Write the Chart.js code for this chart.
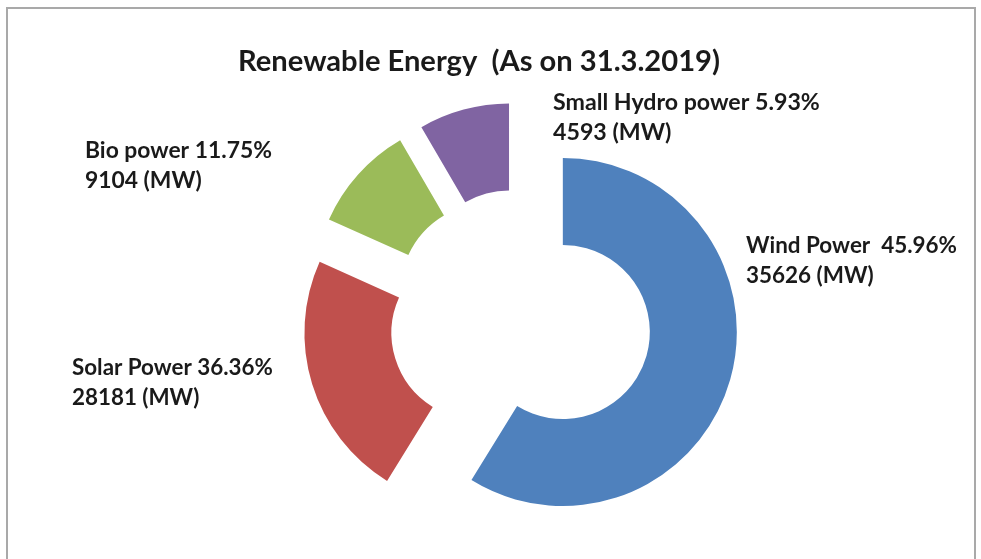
<!DOCTYPE html>
<html><head><meta charset="utf-8">
<script src="https://cdn.jsdelivr.net/npm/chart.js@4.4.1/dist/chart.umd.min.js"></script>
<style>
html,body{margin:0;padding:0;background:#fff;overflow:hidden;}
#wrap{position:relative;width:981px;height:559px;}
#frame{position:absolute;left:6px;top:7px;width:970px;height:620px;border:2px solid #a9a9a9;box-sizing:border-box;}
canvas{position:absolute;left:0;top:0;}
</style></head><body>
<div id="wrap"><div id="frame"></div><canvas id="c" width="981" height="559"></canvas></div>
<script>
// ---- data ----
const titleText = 'Renewable Energy  (As on 31.3.2019)';
const categories = ['Wind Power', 'Solar Power', 'Bio power', 'Small Hydro power'];
const sliceShares = [58.8, 22.9, 9.9, 8.4];          // slice sizes as drawn in the picture
const percentLabels = ['45.96%', '36.36%', '11.75%', '5.93%'];
const capacityMW = [35626, 28181, 9104, 4593];
const labelGap = ['  ', ' ', ' ', ' '];

// ---- layout / style (not data) ----
const sliceColors = ['#4F81BD', '#C0504D', '#9BBB59', '#8064A2'];
const labelLayout = [            // left x, first baseline, target width of first line
  {x: 746, y: 253, w: 211},
  {x: 72,  y: 375, w: 201},
  {x: 85,  y: 158, w: 187},
  {x: 553, y: 110, w: 267}
];
const lineGap = 30;
const EXPLODE = 44;
const FONT = 'Lato, "Open Sans", sans-serif';

function fitSize(ctx, text, target, weight) {
  ctx.font = weight + ' 20px ' + FONT;
  return 20 * target / ctx.measureText(text).width;
}

const explodePlugin = {
  id: 'explode',
  afterDatasetUpdate(chart, args) {
    args.meta.data.forEach(arc => {
      const mid = (arc.startAngle + arc.endAngle) / 2;
      arc.x += Math.cos(mid) * EXPLODE;
      arc.y += Math.sin(mid) * EXPLODE;
    });
  }
};

const textPlugin = {
  id: 'texts',
  afterDraw(chart) {
    const ctx = chart.ctx;
    ctx.save();
    ctx.fillStyle = '#1a1a1a';
    ctx.textBaseline = 'alphabetic';
    // title
    const ts = fitSize(ctx, titleText, 482, 'bold');
    ctx.font = 'bold ' + ts + 'px ' + FONT;
    ctx.textAlign = 'center';
    ctx.fillText(titleText, 479, 71);
    ctx.textAlign = 'left';
    categories.forEach((c, i) => {
      const l1 = c + ' ' + (labelGap[i] === '  ' ? ' ' : '') + percentLabels[i];
      const l2 = capacityMW[i] + ' (MW)';
      const s = fitSize(ctx, l1, labelLayout[i].w, 'bold');
      ctx.font = 'bold ' + s + 'px ' + FONT;
      ctx.fillText(l1, labelLayout[i].x, labelLayout[i].y);
      ctx.fillText(l2, labelLayout[i].x, labelLayout[i].y + lineGap);
    });
    ctx.restore();
  }
};

new Chart(document.getElementById('c'), {
  type: 'doughnut',
  data: {
    labels: categories,
    datasets: [{
      data: sliceShares,
      backgroundColor: sliceColors,
      borderWidth: 0
    }]
  },
  options: {
    responsive: false,
    animation: false,
    radius: 174,
    cutout: '50%',
    layout: {padding: {left: 60, right: 0, top: 81, bottom: 0}},
    plugins: {legend: {display: false}, tooltip: {enabled: false}, title: {display: false}}
  },
  plugins: [explodePlugin, textPlugin]
});
</script>
</body></html>
